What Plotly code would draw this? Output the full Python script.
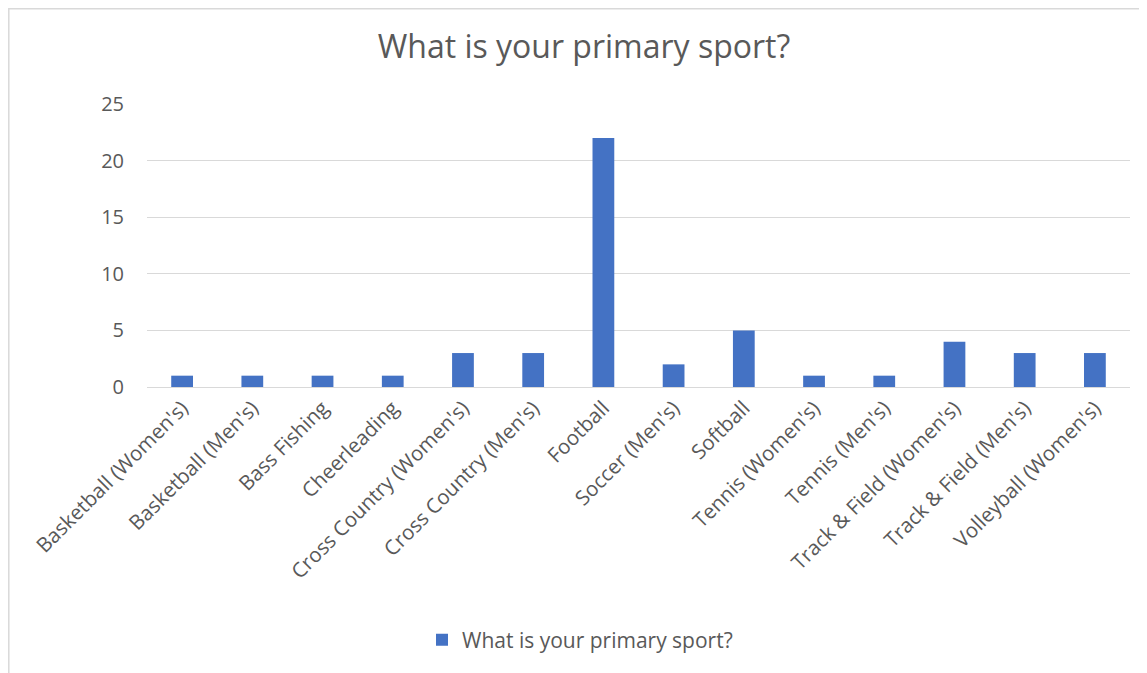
import plotly.graph_objects as go

categories = ["Basketball (Women's)", "Basketball (Men's)", "Bass Fishing", "Cheerleading",
              "Cross Country (Women's)", "Cross Country (Men's)", "Football", "Soccer (Men's)",
              "Softball", "Tennis (Women's)", "Tennis (Men's)", "Track & Field (Women's)",
              "Track & Field (Men's)", "Volleyball (Women's)"]
values = [1, 1, 1, 1, 3, 3, 22, 2, 5, 1, 1, 4, 3, 3]
series_name = "What is your primary sport?"
y_ticks = [0, 5, 10, 15, 20, 25]

FONT = "Open Sans"
GRAY = "#595959"

fig = go.Figure(go.Bar(x=categories, y=values, name=series_name,
                       marker=dict(color="#4472C4", line=dict(width=0)),
                       showlegend=True))

OFF = 8  # default page body margin
W, H = 1147, 673
L, R, T, B = 147 - OFF, 1130 - OFF, 104 - OFF, 387 - OFF
pw, ph = R - L, B - T

def px_x(x):
    return (x - OFF - L) / pw

def px_y(y):
    return (B - (y - OFF)) / ph

fig.update_layout(
    width=W, height=H,
    margin=dict(l=L, r=W - R, t=T, b=H - B, pad=0),
    paper_bgcolor="white", plot_bgcolor="white",
    font=dict(family=FONT, color=GRAY),
    title=dict(text="What is your primary sport?", x=px_x(584), xanchor="center",
               xref="paper",
               y=1 - (47 - OFF) / H, yanchor="middle",
               font=dict(family=FONT, size=32, color=GRAY)),
    bargap=0.69,
    xaxis=dict(tickangle=-45, tickfont=dict(size=20.5, color=GRAY), showgrid=False,
               showline=True, linecolor="#D9D9D9", linewidth=1, ticks="",
               fixedrange=True),
    yaxis=dict(range=[0, 25], tickvals=y_ticks, tickfont=dict(size=20, color=GRAY),
               showgrid=True, gridcolor="#D9D9D9", gridwidth=1, zeroline=False,
               showline=False, ticks="", ticklabelstandoff=22),
    legend=dict(orientation="h", x=px_x(580), xanchor="center", y=px_y(640), yanchor="middle",
                font=dict(size=21, color=GRAY)),
    shapes=[dict(type="rect", xref="paper", yref="paper",
                 x0=px_x(OFF + 0.8), x1=px_x(1200), y0=px_y(720), y1=px_y(OFF + 0.8),
                 line=dict(color="#D9D9D9", width=1.5), fillcolor="rgba(0,0,0,0)",
                 layer="below")],
)

fig.write_html("out.html")
